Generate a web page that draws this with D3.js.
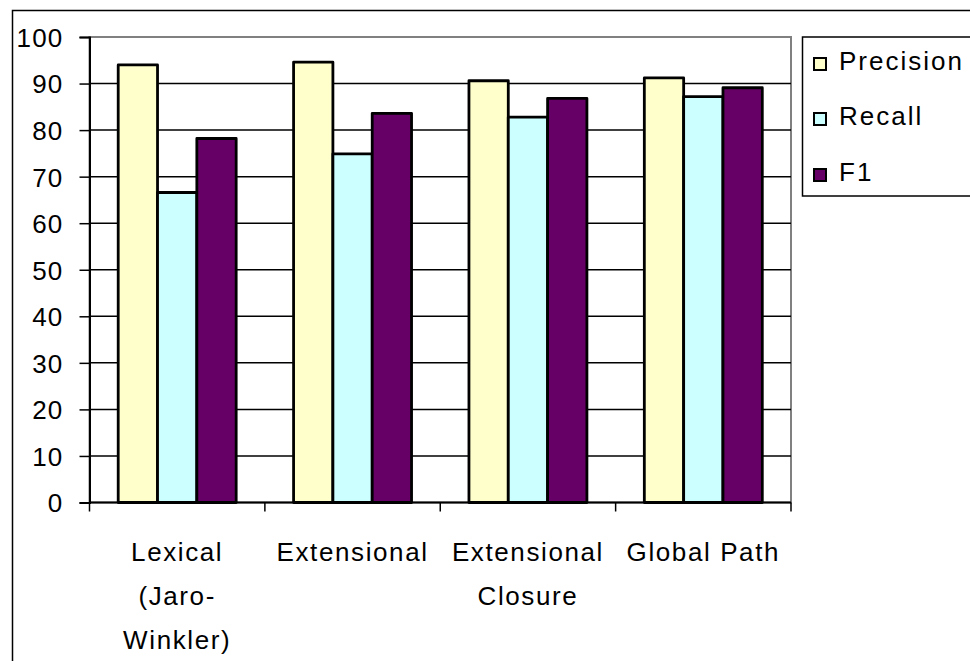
<!DOCTYPE html>
<html><head><meta charset="utf-8">
<script src="https://cdn.jsdelivr.net/npm/d3@7"></script>
<style>html,body{margin:0;padding:0;background:#fff;} svg{display:block;}</style>
</head><body>
<script>
const categories = ["Lexical\n(Jaro-\nWinkler)", "Extensional", "Extensional\nClosure", "Global Path"];
const seriesNames = ["Precision", "Recall", "F1"];
const precision = [94.0, 94.6, 90.6, 91.2];
const recall = [66.6, 74.9, 82.8, 87.2];
const f1 = [78.2, 83.6, 86.8, 89.1];
const seriesColors = ["#FFFFCC", "#CCFFFF", "#660066"];
const yTicks = [0, 10, 20, 30, 40, 50, 60, 70, 80, 90, 100];

const W = 970, H = 661;
const font = "'Liberation Sans', Arial, sans-serif";
const svg = d3.select("body").append("svg").attr("width", W).attr("height", H);
svg.append("rect").attr("width", W).attr("height", H).attr("fill", "#fff");
// outer chart border
svg.append("rect").attr("x", 12.5).attr("y", 10.5).attr("width", 1000).attr("height", 700)
  .attr("fill", "none").attr("stroke", "#000").attr("stroke-width", 1.5);

const plot = {left: 89.5, right: 791, top: 37, bottom: 502.5};
const x0 = d3.scaleBand().domain(categories).range([plot.left, plot.right]).padding(0);
const x1 = d3.scaleBand().domain(seriesNames).range([0, x0.bandwidth()]).paddingInner(0).paddingOuter(0.73);
const y = d3.scaleLinear().domain([0, 100]).range([plot.bottom, plot.top]);

// plot area border (gray)
svg.append("rect").attr("x", plot.left).attr("y", plot.top).attr("width", plot.right - plot.left)
  .attr("height", plot.bottom - plot.top).attr("fill", "#fff").attr("stroke", "#808080").attr("stroke-width", 2);

// gridlines
svg.append("g").selectAll("line").data(yTicks.filter(d => d > 0 && d < 100)).join("line")
  .attr("x1", plot.left).attr("x2", plot.right).attr("y1", d => y(d)).attr("y2", d => y(d))
  .attr("stroke", "#000").attr("stroke-width", 1.5);

// bars
const seriesData = [precision, recall, f1];
const groups = svg.append("g").selectAll("g").data(categories).join("g")
  .attr("transform", d => `translate(${x0(d)},0)`);
groups.selectAll("rect").data((c, ci) => seriesNames.map((s, si) => ({s, si, v: seriesData[si][ci]}))).join("rect")
  .attr("x", d => x1(d.s)).attr("width", x1.bandwidth())
  .attr("y", d => y(d.v)).attr("height", d => y(0) - y(d.v))
  .attr("fill", d => seriesColors[d.si]).attr("stroke", "#000").attr("stroke-width", 2.8)
  .attr("stroke-linejoin", "round");

// y axis
const yAxis = d3.axisLeft(y).tickValues(yTicks).tickSize(10).tickPadding(16).tickFormat(d3.format("d"));
const ga = svg.append("g").attr("transform", `translate(${plot.left},0)`).call(yAxis);
ga.select(".domain").attr("stroke", "#000").attr("stroke-width", 2);
ga.selectAll(".tick line").attr("stroke", "#000").attr("stroke-width", 1.5);
ga.selectAll(".tick text").attr("font-family", font).attr("font-size", 26).attr("fill", "#000")
  .attr("letter-spacing", "1.2px").attr("dy", "0.36em");

// x axis
const xb = svg.append("g");
xb.append("line").attr("x1", plot.left).attr("x2", plot.right).attr("y1", plot.bottom).attr("y2", plot.bottom)
  .attr("stroke", "#000").attr("stroke-width", 2);
const bounds = categories.map(c => x0(c)).concat([x0(categories[categories.length - 1]) + x0.bandwidth()]);
xb.selectAll("line.t").data(bounds).join("line").attr("class", "t")
  .attr("x1", d => d).attr("x2", d => d).attr("y1", plot.bottom).attr("y2", plot.bottom + 9)
  .attr("stroke", "#000").attr("stroke-width", 1.5);
const lab = xb.selectAll("text.c").data(categories).join("text").attr("class", "c")
  .attr("font-family", font).attr("font-size", 26).attr("fill", "#000").attr("letter-spacing", "1.6px")
  .attr("text-anchor", "middle");
lab.each(function(c) {
  const t = d3.select(this);
  c.split("\n").forEach((line, i) => {
    t.append("tspan").attr("x", x0(c) + x0.bandwidth() / 2).attr("y", 561 + i * 44).text(line);
  });
});

// legend
const lg = svg.append("g");
lg.append("rect").attr("x", 802.5).attr("y", 37).attr("width", 200).attr("height", 159)
  .attr("fill", "#fff").attr("stroke", "#000").attr("stroke-width", 1.5);
const ly = [64, 119, 175];
seriesNames.forEach((s, i) => {
  lg.append("rect").attr("x", 814).attr("y", ly[i] - 6).attr("width", 12).attr("height", 12)
    .attr("fill", seriesColors[i]).attr("stroke", "#000").attr("stroke-width", 2);
  lg.append("text").attr("x", 839).attr("y", ly[i] + 6)
    .attr("font-family", font).attr("font-size", 26).attr("letter-spacing", "2px").attr("fill", "#000").text(s);
});
</script>
</body></html>
